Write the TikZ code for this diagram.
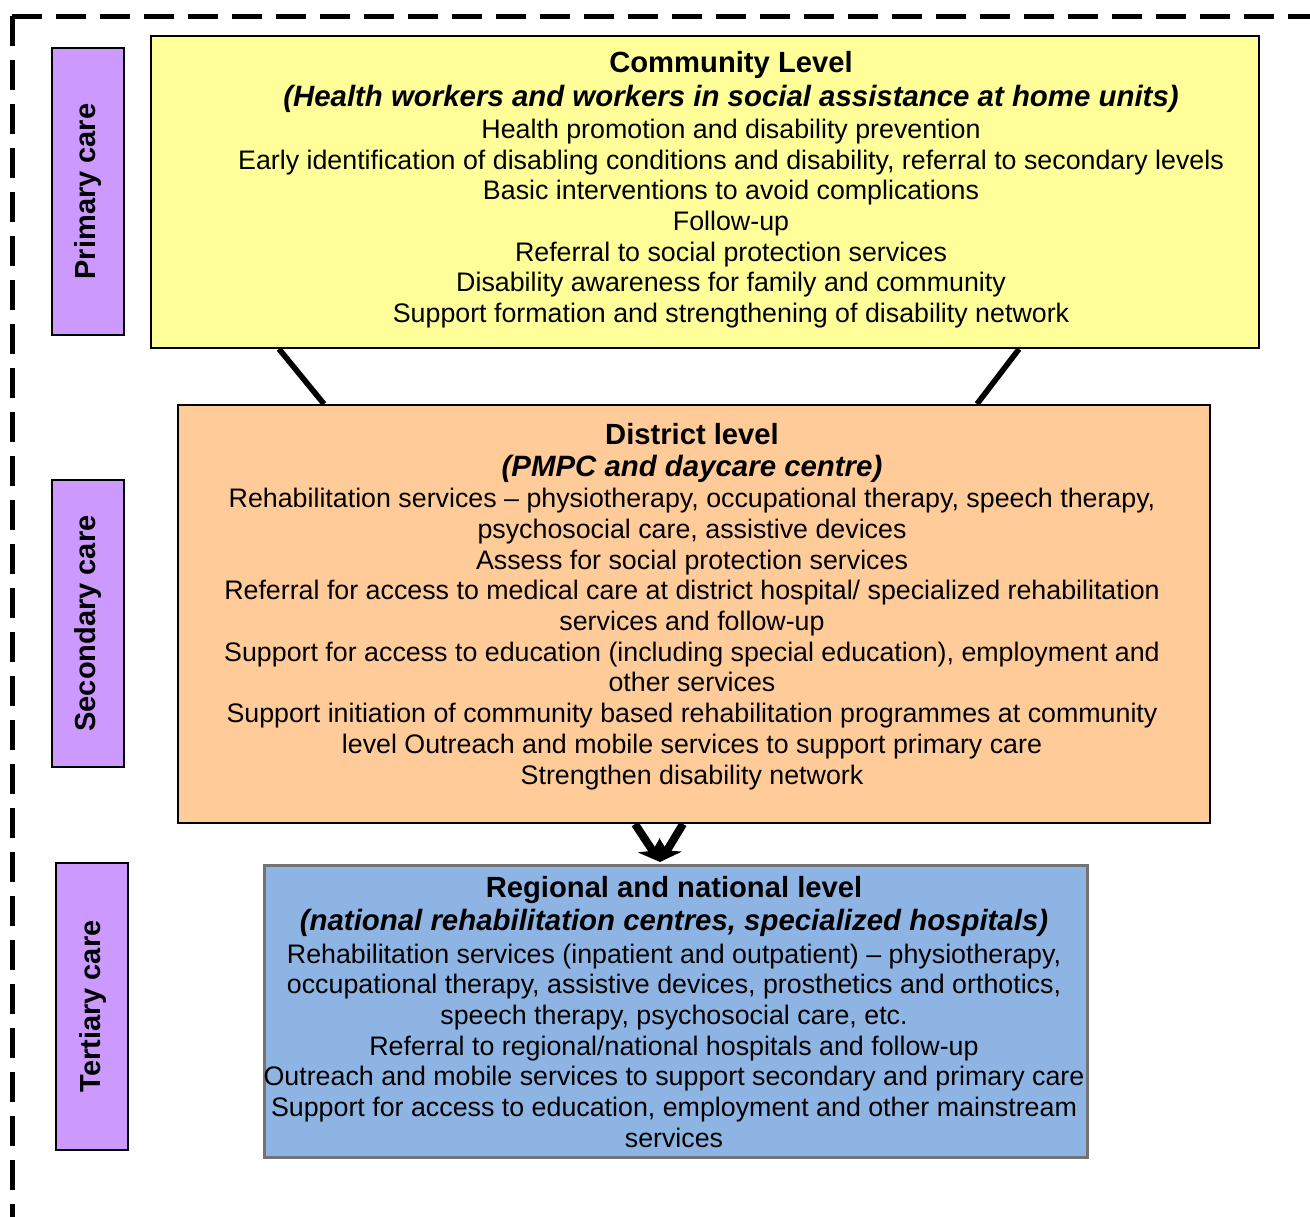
\documentclass[tikz,border=0pt]{standalone}
\usepackage{fontspec}
\setmainfont{Liberation Sans}
\usetikzlibrary{arrows.meta,calc}
\definecolor{yel}{HTML}{FFFF99}
\definecolor{ora}{HTML}{FFCC99}
\definecolor{blu}{HTML}{8EB4E3}
\definecolor{purp}{HTML}{CC99FF}
\begin{document}
\begin{tikzpicture}[x=0.5pt,y=-0.5pt,
  box/.style={draw=black,line width=1pt,anchor=north west,inner sep=0pt},
  sidebox/.style={box,fill=purp,minimum width=36pt,minimum height=143.5pt},
  sidelabel/.style={rotate=90,font=\fontsize{14.5}{17}\selectfont\bfseries,inner sep=0pt},
  ttl/.style={font=\fontsize{14.6}{17}\selectfont\bfseries,inner sep=0pt},
  sub/.style={font=\fontsize{14.7}{17}\selectfont\bfseries\itshape,inner sep=0pt},
  body/.style={font=\fontsize{13.4}{15.35}\selectfont,align=center,inner sep=0pt},
  conn/.style={line width=2.8pt},
  arr/.style={line width=4pt,-{Stealth[length=10pt,width=13pt]}},
  border/.style={line width=2.5pt,dash pattern=on 15pt off 7pt}]
\clip (0,0) rectangle (1310,1216);
% dashed frame
\coordinate (corner) at (12,16);
\coordinate (fb) at (12,1240);
\coordinate (fr) at (1340,16);
\draw[border] (corner) -- (fb);
\draw[border] (corner) -- (fr);
% side boxes
\node[sidebox] (p1) at (51,47) {};
\node[sidelabel] (p1t) at (p1.center) {Primary care};
\node[sidebox] (p2) at (51,479) {};
\node[sidelabel] (p2t) at (p2.center) {Secondary care};
\node[sidebox] (p3) at (55,862) {};
\node[sidelabel] (p3t) at ([xshift=0.5pt]p3.center) {Tertiary care};
% main boxes
\node[box,fill=yel,minimum width=554pt,minimum height=156pt] (y) at (150,35) {};
\node[box,fill=ora,minimum width=516pt,minimum height=209pt] (o) at (177,404) {};
\node[box,fill=blu,draw=black!55,line width=1.3pt,minimum width=411.5pt,minimum height=146pt] (b) at (263,864) {};
% yellow text
\node[ttl] (yt) at (731,65) {Community Level};
\node[sub] (ys) at (731,99) {(Health workers and workers in social assistance at home units)};
\node[body] (yb) at (731,223.5) {Health promotion and disability prevention\\
Early identification of disabling conditions and disability, referral to secondary levels\\
Basic interventions to avoid complications\\
Follow-up\\
Referral to social protection services\\
Disability awareness for family and community\\
Support formation and strengthening of disability network};
% orange text
\node[ttl] (ot) at (692,434) {District level};
\node[sub] (os) at (692,469) {(PMPC and daycare centre)};
\node[body] (ob) at (692,639) {Rehabilitation services -- physiotherapy, occupational therapy, speech therapy,\\
psychosocial care, assistive devices\\
Assess for social protection services\\
Referral for access to medical care at district hospital/ specialized rehabilitation\\
services and follow-up\\
Support for access to education (including special education), employment and\\
other services\\
Support initiation of community based rehabilitation programmes at community\\
level Outreach and mobile services to support primary care\\
Strengthen disability network};
% blue text
\node[ttl] (bt) at (674,890) {Regional and national level};
\node[sub] (bs) at (674,923) {(national rehabilitation centres, specialized hospitals)};
\node[body] (bb) at (674,1045.5) {Rehabilitation services (inpatient and outpatient) -- physiotherapy,\\
occupational therapy, assistive devices, prosthetics and orthotics,\\
speech therapy, psychosocial care, etc.\\
Referral to regional/national hospitals and follow-up\\
Outreach and mobile services to support secondary and primary care\\
Support for access to education, employment and other mainstream\\
services};
% connectors
\draw[conn] ([xshift=64.5pt]y.south west) -- ([xshift=73.5pt]o.north west);
\draw[conn] ([xshift=434.5pt]y.south west) -- ([xshift=400pt]o.north west);
\draw[arr] ([xshift=229pt]o.south west) -- ([xshift=198.5pt,yshift=1pt]b.north west);
\draw[arr] ([xshift=253pt]o.south west) -- ([xshift=198.5pt,yshift=1pt]b.north west);
\end{tikzpicture}
\end{document}
